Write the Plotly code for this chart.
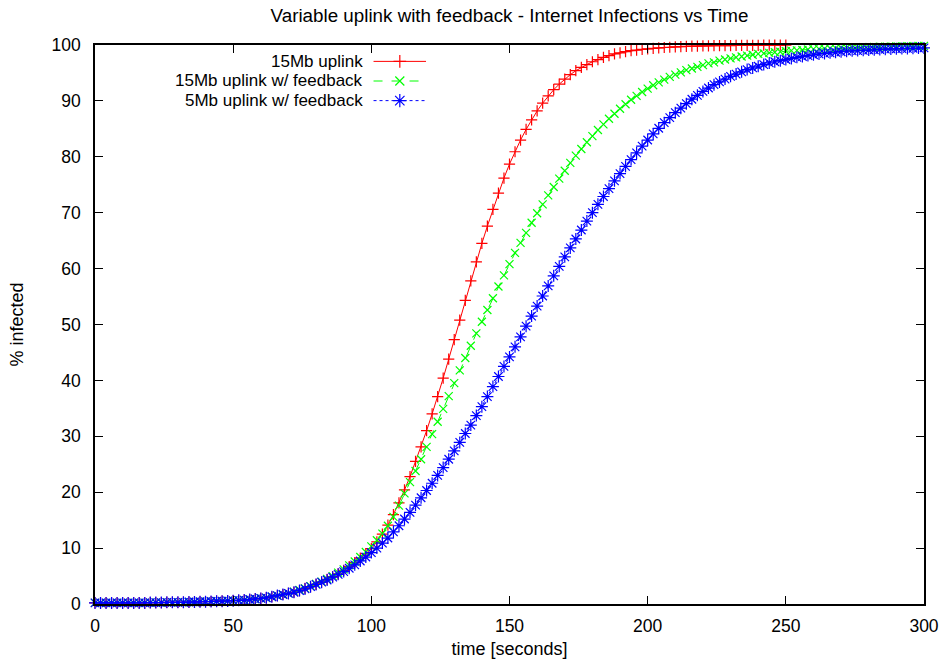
import plotly.graph_objects as go

# Sample times (seconds) and percentage of hosts infected
t_uplink = list(range(0, 251, 2))
t_feedback = list(range(0, 301, 2))

pct_15mb = [
    0.2, 0.2, 0.2, 0.2, 0.2, 0.2, 0.2, 0.2, 0.2, 0.2,
    0.25, 0.25, 0.25, 0.3, 0.3, 0.3, 0.3, 0.35, 0.35, 0.4,
    0.4, 0.45, 0.5, 0.5, 0.55, 0.6, 0.65, 0.7, 0.8, 0.9,
    1.0, 1.1, 1.3, 1.5, 1.7, 1.9, 2.1, 2.4, 2.8, 3.1,
    3.5, 3.9, 4.4, 4.9, 5.4, 6.0, 6.7, 7.4, 8.2, 9.0,
    9.9, 11.1, 12.5, 14.1, 16.0, 18.1, 20.4, 22.8, 25.5, 28.1,
    31.0, 34.0, 37.1, 40.4, 43.8, 47.3, 50.8, 54.3, 57.8, 61.2,
    64.5, 67.6, 70.6, 73.5, 76.2, 78.7, 80.9, 83.0, 84.9, 86.6,
    88.2, 89.6, 90.9, 92.0, 93.0, 93.9, 94.7, 95.4, 96.0, 96.5,
    97.0, 97.4, 97.8, 98.1, 98.4, 98.6, 98.8, 99.0, 99.1, 99.2,
    99.3, 99.4, 99.5, 99.55, 99.6, 99.65, 99.7, 99.75, 99.8, 99.8,
    99.85, 99.85, 99.9, 99.9, 99.9, 99.9, 99.92, 99.93, 99.94, 99.95,
    99.95, 99.96, 99.97, 99.97, 99.98, 99.98,
]

pct_15mb_fb = [
    0.2, 0.2, 0.2, 0.2, 0.2, 0.2, 0.2, 0.2, 0.2, 0.2,
    0.25, 0.25, 0.25, 0.3, 0.3, 0.3, 0.3, 0.35, 0.35, 0.4,
    0.4, 0.45, 0.5, 0.5, 0.55, 0.6, 0.65, 0.7, 0.8, 0.9,
    1.0, 1.1, 1.3, 1.5, 1.7, 1.9, 2.2, 2.5, 2.8, 3.2,
    3.6, 4.0, 4.5, 5.0, 5.6, 6.2, 6.9, 7.6, 8.4, 9.3,
    10.3, 11.4, 12.6, 14.0, 15.6, 17.6, 19.8, 21.8, 23.8, 25.9,
    28.1, 30.4, 32.6, 34.9, 37.2, 39.5, 41.8, 44.0, 46.2, 48.4,
    50.5, 52.6, 54.7, 56.8, 58.8, 60.8, 62.8, 64.6, 66.4, 68.2,
    69.9, 71.5, 73.1, 74.6, 76.1, 77.5, 78.9, 80.2, 81.4, 82.6,
    83.7, 84.8, 85.8, 86.8, 87.7, 88.6, 89.4, 90.2, 90.9, 91.6,
    92.2, 92.8, 93.3, 93.8, 94.3, 94.7, 95.1, 95.5, 95.8, 96.1,
    96.4, 96.7, 96.9, 97.2, 97.4, 97.6, 97.8, 97.95, 98.1, 98.25,
    98.4, 98.5, 98.6, 98.7, 98.8, 98.9, 99.0, 99.05, 99.1, 99.2,
    99.25, 99.3, 99.35, 99.4, 99.45, 99.5, 99.52, 99.55, 99.58, 99.6,
    99.63, 99.66, 99.68, 99.7, 99.72, 99.74, 99.76, 99.78, 99.8, 99.82,
    99.84,
]

pct_5mb_fb = [
    0.2, 0.2, 0.2, 0.2, 0.2, 0.2, 0.2, 0.2, 0.2, 0.2,
    0.25, 0.25, 0.25, 0.3, 0.3, 0.3, 0.3, 0.35, 0.35, 0.4,
    0.4, 0.45, 0.5, 0.5, 0.55, 0.6, 0.65, 0.7, 0.8, 0.9,
    1.0, 1.1, 1.3, 1.5, 1.7, 1.9, 2.1, 2.4, 2.7, 3.1,
    3.5, 3.9, 4.3, 4.8, 5.3, 5.8, 6.4, 7.0, 7.7, 8.4,
    9.2, 10.0, 10.9, 11.8, 12.9, 14.0, 15.2, 16.4, 17.7, 19.0,
    20.3, 21.6, 23.0, 24.4, 25.9, 27.4, 28.9, 30.5, 32.0, 33.7,
    35.3, 37.1, 38.9, 40.7, 42.5, 44.2, 46.0, 47.8, 49.7, 51.5,
    53.3, 55.1, 56.9, 58.7, 60.4, 62.1, 63.7, 65.3, 66.9, 68.5,
    70.0, 71.5, 72.9, 74.3, 75.7, 77.0, 78.3, 79.5, 80.7, 81.9,
    83.0, 84.1, 85.1, 86.1, 87.0, 87.9, 88.7, 89.5, 90.3, 91.0,
    91.7, 92.3, 92.9, 93.4, 93.9, 94.4, 94.8, 95.2, 95.6, 95.9,
    96.2, 96.5, 96.8, 97.0, 97.2, 97.4, 97.6, 97.8, 97.95, 98.1,
    98.25, 98.4, 98.5, 98.6, 98.7, 98.8, 98.9, 98.95, 99.0, 99.05,
    99.1, 99.15, 99.2, 99.25, 99.3, 99.33, 99.36, 99.39, 99.42, 99.45,
    99.48,
]

series_names = ["15Mb uplink", "15Mb uplink w/ feedback", "5Mb uplink w/ feedback"]
series_colors = ["#ff0000", "#00ff00", "#0000ff"]
series_dash = ["solid", "dash", "dot"]
series_symbols = ["cross-thin", "x-thin", "asterisk"]
series_sizes = [8, 8, 10]

x_ticks = [0, 50, 100, 150, 200, 250, 300]
y_ticks = [0, 10, 20, 30, 40, 50, 60, 70, 80, 90, 100]

FONT = "Liberation Sans, Arial, Helvetica, sans-serif"
TEXT_SIZE = 18
KEY_SIZE = 17

fig = go.Figure()

series = [
    (t_uplink, pct_15mb),
    (t_feedback, pct_15mb_fb),
    (t_feedback, pct_5mb_fb),
]

for (tx, py), name, col, dash, sym, sz in zip(
    series, series_names, series_colors, series_dash, series_symbols, series_sizes
):
    fig.add_trace(go.Scatter(
        x=tx, y=py, name=name, mode="lines+markers",
        line=dict(color=col, width=1, dash=dash),
        marker=dict(symbol=sym, size=sz, color=col,
                    line=dict(color=col, width=1.2)),
        cliponaxis=False, showlegend=False,
    ))

# Key in the top-left corner: label on the left, line sample on the right
key_x = [0.336, 0.3677, 0.3993]
key_rows = [0.9707, 0.9356, 0.9005]
for name, col, dash, sym, sz, ky in zip(
    series_names, series_colors, series_dash, series_symbols, series_sizes, key_rows
):
    fig.add_trace(go.Scatter(
        x=key_x, y=[ky, ky, ky], xaxis="x2", yaxis="y2",
        mode="lines", line=dict(color=col, width=1, dash=dash),
        showlegend=False, hoverinfo="skip", cliponaxis=False,
    ))
    fig.add_trace(go.Scatter(
        x=[key_x[1]], y=[ky], xaxis="x2", yaxis="y2",
        mode="markers",
        marker=dict(symbol=sym, size=sz + 1, color=col,
                    line=dict(color=col, width=1.2)),
        showlegend=False, hoverinfo="skip", cliponaxis=False,
    ))
    fig.add_annotation(
        x=0.3249, y=ky, xref="paper", yref="paper",
        text=name, showarrow=False, xanchor="right", yanchor="middle",
        borderpad=0,
        font=dict(family=FONT, size=KEY_SIZE, color="black"),
    )

axis_common = dict(
    showgrid=False, zeroline=False,
    showline=True, linecolor="black", linewidth=1.5, mirror="allticks",
    ticks="inside", ticklen=8, tickwidth=1.2, tickcolor="black",
    tickfont=dict(family=FONT, size=17.5, color="black"),
)

fig.update_layout(
    width=951, height=669, autosize=False,
    margin=dict(l=95, r=22, t=45, b=65),
    paper_bgcolor="white", plot_bgcolor="white",
    font=dict(family=FONT, size=TEXT_SIZE, color="black"),
    title=dict(
        text="Variable uplink with feedback - Internet Infections vs Time",
        x=0.5, xref="paper", xanchor="center",
        y=1 - 15 / 669, yref="container", yanchor="middle",
        font=dict(family=FONT, size=18.8, color="black"),
    ),
    xaxis=dict(
        range=[0, 300], tickvals=x_ticks, ticklabelstandoff=5,
        title=dict(text="time [seconds]", standoff=8,
                   font=dict(family=FONT, size=TEXT_SIZE, color="black")),
        **axis_common,
    ),
    yaxis=dict(
        range=[0, 100], tickvals=y_ticks, ticklabelstandoff=9,
        title=dict(text="% infected", standoff=23,
                   font=dict(family=FONT, size=TEXT_SIZE, color="black")),
        **axis_common,
    ),
    xaxis2=dict(range=[0, 1], overlaying="x", visible=False, fixedrange=True),
    yaxis2=dict(range=[0, 1], overlaying="y", visible=False, fixedrange=True),
    showlegend=False,
)

fig.write_html("out.html")
